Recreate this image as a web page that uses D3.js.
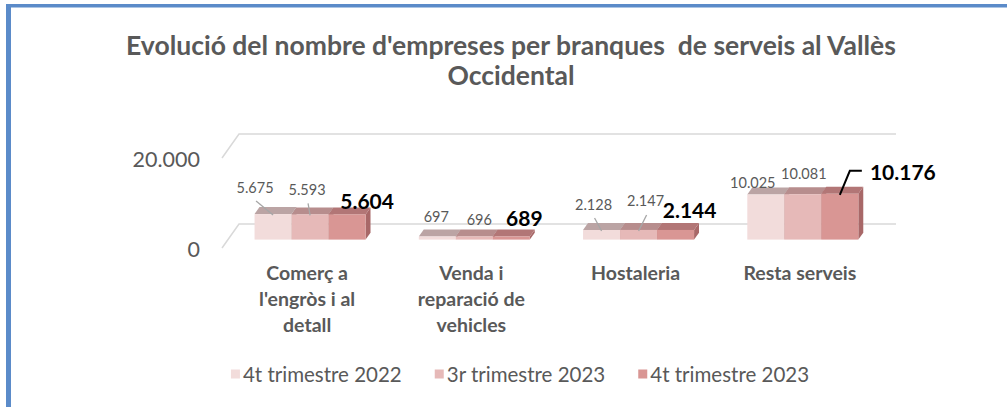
<!DOCTYPE html>
<html>
<head>
<meta charset="utf-8">
<script src="https://cdn.jsdelivr.net/npm/d3@7"></script>
<style>
  html, body { margin: 0; padding: 0; background: #fff; }
  svg { display: block; font-family: Lato, "Open Sans", sans-serif; }
</style>
</head>
<body>
<svg id="chart" width="1007" height="407"></svg>
<script>
// data
let categories = ["Comerç a l'engròs i al detall", "Venda i reparació de vehicles", "Hostaleria", "Resta serveis"]
let seriesNames = ["4t trimestre 2022", "3r trimestre 2023", "4t trimestre 2023"]
let q4_2022 = [5675, 697, 2128, 10025]
let q3_2023 = [5593, 696, 2147, 10081]
let q4_2023 = [5604, 689, 2144, 10176]
let yTicks = [0, 20000]
let titleLines = ["Evolució del nombre d'empreses per branques  de serveis al Vallès", "Occidental"]

// styles
let frontCol = ["#f2dcdb", "#e6b9b8", "#d99694"]
let topCol = ["#bba4a4", "#b78d8d", "#b27676"]
let sideCol = ["#b39a9a", "#ad8080", "#a86868"]
let grey = "#595959"

// hand placed data labels: [dx, dy] from bar top centre, leader type
let labelPos = [
  [[-18, -27, "grey"], [-1, -20, null], [-8, -26, "grey"], [-13, -12, null]],
  [[-3, -25, "grey"], [5, -17, null], [7, -29, "grey"], [1, -21, null]],
  [[20, -14, null], [13, -19, null], [14, -20, null], [63, -22, "elbow"]]
]

let values = [q4_2022, q3_2023, q4_2023]

let svg = d3.select("#chart")

// border lines (blue frame top/left)
svg.append("rect").attr("x", 6).attr("y", 4).attr("width", 1001).attr("height", 3.5).attr("fill", "#5b8bc9")
svg.append("rect").attr("x", 6).attr("y", 4).attr("width", 5).attr("height", 403).attr("fill", "#5b8bc9")

// title
svg.append("g").selectAll("text")
    .data(titleLines)
    .enter()
    .append("text")
    .attr("x", 511)
    .attr("y", (d, i) => 45 + i * 30)
    .attr("text-anchor", "middle")
    .attr("dominant-baseline", "central")
    .attr("font-size", 26.5)
    .attr("font-weight", "bold")
    .attr("fill", grey)
    .style("white-space", "pre")
    .text(d => d)

// scales
let x = d3.scaleBand().domain(categories).range([222, 879]).paddingInner(0.324).paddingOuter(0.162)
let xs = d3.scaleBand().domain(d3.range(seriesNames.length)).range([0, x.bandwidth()])
let y = d3.scaleLinear().domain([0, 20000]).range([248, 158])
let depthX = 17, depthY = -24
let z0 = 0.35, z1 = 0.64

// gridlines on the wall
let grid = svg.append("g").attr("class", "grid")
grid.selectAll("path")
    .data(yTicks)
    .enter()
    .append("path")
    .attr("d", t => "M222," + y(t) + "L" + (222 + depthX) + "," + (y(t) + depthY) + "L" + (879 + depthX) + "," + (y(t) + depthY))
    .attr("fill", "none")
    .attr("stroke", "#d9d9d9")
    .attr("stroke-width", 1.5)

grid.selectAll("text")
    .data(yTicks)
    .enter()
    .append("text")
    .attr("x", 200)
    .attr("y", t => y(t) + 1)
    .attr("text-anchor", "end")
    .attr("dominant-baseline", "central")
    .attr("font-size", 21.5)
    .attr("fill", grey)
    .text(t => d3.format(",")(t).replace(/,/g, "."))

// bars
let bars = []
categories.forEach((c, ci) => {
  values.forEach((vals, si) => {
    let x0 = x(c) + xs(si) + depthX * z0
    let x1 = x0 + xs.bandwidth()
    let yb = y(0) + depthY * z0
    let yt = y(vals[ci]) + depthY * z0
    bars.push({ci, si, v: vals[ci], x0, x1, yb, yt})
  })
})
let dx = depthX * (z1 - z0), dy = depthY * (z1 - z0)

let barG = svg.append("g").attr("class", "bars")
let bg = barG.selectAll("g")
    .data(bars)
    .enter()
    .append("g")

bg.append("path")
    .attr("d", b => `M${b.x1},${b.yb}L${b.x1 + dx},${b.yb + dy}L${b.x1 + dx},${b.yt + dy}L${b.x1},${b.yt}Z`)
    .attr("fill", b => sideCol[b.si])
bg.append("path")
    .attr("d", b => `M${b.x0},${b.yt}L${b.x0 + dx},${b.yt + dy}L${b.x1 + dx},${b.yt + dy}L${b.x1},${b.yt}Z`)
    .attr("fill", b => topCol[b.si])
bg.append("rect")
    .attr("x", b => b.x0)
    .attr("y", b => b.yt)
    .attr("width", b => b.x1 - b.x0)
    .attr("height", b => b.yb - b.yt)
    .attr("fill", b => frontCol[b.si])

// data labels
let labG = svg.append("g").attr("class", "labels")
bars.forEach(b => {
  let p = labelPos[b.si][b.ci]
  let cx = (b.x0 + b.x1) / 2
  let lx = cx + p[0], ly = b.yt + p[1]
  let bold = b.si === 2
  if (p[2] === "grey") {
    labG.append("path")
        .attr("d", `M${cx},${b.yt + 1}L${lx + 1},${ly + 14}`)
        .attr("stroke", "#a6a6a6")
        .attr("stroke-width", 1.3)
        .attr("fill", "none")
  } else if (p[2] === "elbow") {
    labG.append("path")
        .attr("d", `M${cx},${b.yt + 1}L${cx + 10},${ly - 1}L${cx + 22},${ly - 1}`)
        .attr("stroke", "#000")
        .attr("stroke-width", 2)
        .attr("fill", "none")
  }
  labG.append("text")
      .attr("x", lx)
      .attr("y", ly)
      .attr("text-anchor", "middle")
      .attr("dominant-baseline", "central")
      .attr("font-size", bold ? 21 : 14.5)
      .attr("font-weight", bold ? "bold" : "normal")
      .attr("fill", bold ? "#000" : grey)
      .text(d3.format(",")(b.v).replace(/,/g, "."))
})

// category labels with wrapping
let catG = svg.append("g").attr("class", "cats")
categories.forEach(c => {
  let cx = x(c) + x.bandwidth() / 2 + 3
  let t = catG.append("text")
      .attr("x", cx)
      .attr("y", 273)
      .attr("text-anchor", "middle")
      .attr("font-size", 19.5)
      .attr("font-weight", "bold")
      .attr("fill", grey)
  let words = c.split(" ")
  let line = []
  let ts = t.append("tspan").attr("x", cx).attr("dy", "0.35em")
  words.forEach(w => {
    line.push(w)
    ts.text(line.join(" "))
    if (ts.node().getComputedTextLength() > 125 && line.length > 1) {
      line.pop()
      ts.text(line.join(" "))
      line = [w]
      ts = t.append("tspan").attr("x", cx).attr("dy", 26).text(w)
    }
  })
})

// legend
let leg = svg.append("g").attr("class", "legend")
let items = leg.selectAll("g")
    .data(seriesNames)
    .enter()
    .append("g")
items.append("rect")
    .attr("width", 9)
    .attr("height", 9)
    .attr("y", -4.5)
    .attr("fill", (d, i) => frontCol[i])
items.append("text")
    .attr("x", 12)
    .attr("dominant-baseline", "central")
    .attr("font-size", 20.5)
    .attr("fill", grey)
    .text(d => d)
let widths = items.nodes().map(n => n.getBBox().width)
let gap = 33
let total = d3.sum(widths) + gap * (widths.length - 1)
let lx0 = 520 - total / 2
items.attr("transform", (d, i) => "translate(" + (lx0 + d3.sum(widths.slice(0, i)) + gap * i) + ",374)")
</script>
</body>
</html>
